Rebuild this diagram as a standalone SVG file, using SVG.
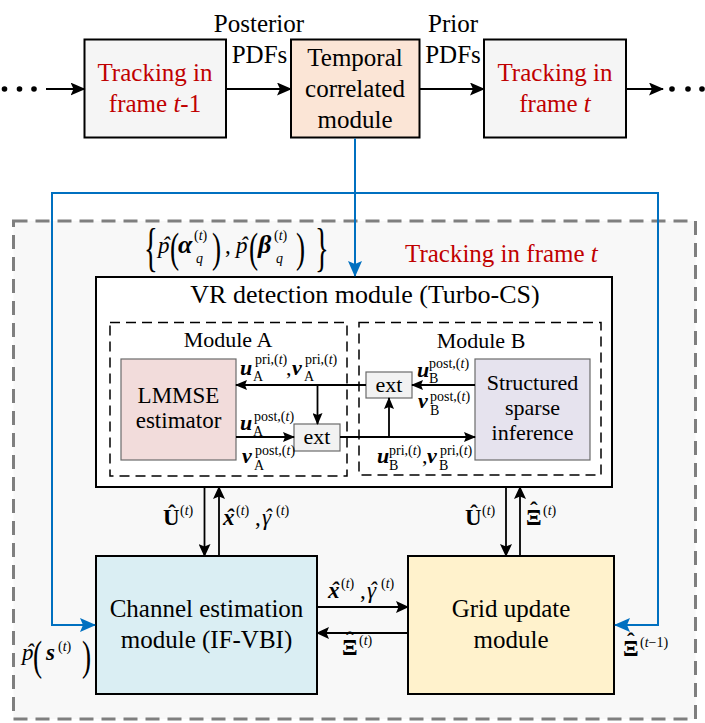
<svg xmlns="http://www.w3.org/2000/svg" width="705" height="723" viewBox="0 0 705 723" font-family="'Liberation Serif', 'DejaVu Serif', serif">
<style>
text{font-family:'Liberation Serif','DejaVu Serif',serif;fill:#000}
.f25{font-size:25px}
.f26{font-size:26px}
.f22{font-size:22px}
.f23{font-size:23px}
.sm{font-size:14px}
.bi{font-weight:bold;font-style:italic}
.b{font-weight:bold}
.i{font-style:italic}
.red{fill:#C00000}
.mid{text-anchor:middle}
.ln{stroke:#000;stroke-width:1.8;fill:none}
.bl{stroke:#0070C0;stroke-width:2;fill:none}
.box{stroke:#000;stroke-width:2}
.ibox{stroke:#6b6b6b;stroke-width:1.2}
.dash{fill:none;stroke:#000;stroke-width:1.5;stroke-dasharray:10 6}
</style>
<defs>
<marker id="ah" markerUnits="userSpaceOnUse" markerWidth="15" markerHeight="13" refX="14" refY="6.5" orient="auto"><path d="M0,0 L15,6.5 L0,13 L3,6.5 z" fill="#000"/></marker>
<marker id="am" markerUnits="userSpaceOnUse" markerWidth="13" markerHeight="12" refX="12" refY="6" orient="auto"><path d="M0,0 L13,6 L0,12 L2.5,6 z" fill="#000"/></marker>
<marker id="as" markerUnits="userSpaceOnUse" markerWidth="12" markerHeight="10" refX="11" refY="5" orient="auto"><path d="M0,0 L12,5 L0,10 L2,5 z" fill="#000"/></marker>
<marker id="ab" markerUnits="userSpaceOnUse" markerWidth="16" markerHeight="14" refX="15" refY="7" orient="auto"><path d="M0,0 L16,7 L0,14 L3,7 z" fill="#0070C0"/></marker>
</defs>

<g id="frame-t">
<rect x="13.5" y="221" width="682" height="498" fill="#F8F8F8" stroke="#7F7F7F" stroke-width="3" stroke-dasharray="14 8"/>
<text class="f25 red" x="405" y="262">Tracking in frame <tspan class="i">t</tspan></text>
</g>

<g id="dots-left"><circle cx="4.5" cy="89" r="2.8"/><circle cx="19.5" cy="89" r="2.8"/><circle cx="34" cy="89" r="2.8"/></g>
<g id="dots-right"><circle cx="672" cy="89" r="2.8"/><circle cx="688" cy="89" r="2.8"/><circle cx="702" cy="89" r="2.8"/></g>

<g id="track-prev">
<rect class="box" x="84.5" y="39.5" width="141.5" height="98" fill="#F5F5F5"/>
<text class="f25 red mid" x="155" y="81">Tracking in</text>
<text class="f25 red mid" x="155" y="112">frame <tspan class="i">t</tspan>-1</text>
</g>
<g id="temporal">
<rect class="box" x="291" y="39.5" width="128.5" height="98" fill="#FBE5D6"/>
<text class="f25 mid" x="355" y="66">Temporal</text>
<text class="f25 mid" x="355" y="97">correlated</text>
<text class="f25 mid" x="355" y="128">module</text>
</g>
<g id="track-cur">
<rect class="box" x="484" y="39.5" width="142" height="98" fill="#F5F5F5"/>
<text class="f25 red mid" x="555" y="81">Tracking in</text>
<text class="f25 red mid" x="555" y="112">frame <tspan class="i">t</tspan></text>
</g>

<g id="vr">
<rect class="box" x="96" y="277" width="516" height="210" fill="#FFFFFF"/>
<text class="f26 mid" x="365" y="303">VR detection module (Turbo-CS)</text>
</g>
<g id="module-a">
<rect class="dash" x="110" y="322.5" width="237" height="153.5"/>
<text class="f22 mid" x="228" y="347">Module A</text>
</g>
<g id="module-b">
<rect class="dash" x="359" y="322.5" width="242" height="152.5"/>
<text class="f22 mid" x="481" y="348">Module B</text>
</g>
<g id="lmmse">
<rect class="ibox" x="121" y="359" width="115" height="101" fill="#F2DCDB"/>
<text class="f23 mid" x="178.5" y="403">LMMSE</text>
<text class="f23 mid" x="178.5" y="428">estimator</text>
</g>
<g id="ssi">
<rect class="ibox" x="475" y="359" width="115" height="101" fill="#E6E3EE"/>
<text class="f22 mid" x="532.5" y="390">Structured</text>
<text class="f22 mid" x="532.5" y="415">sparse</text>
<text class="f22 mid" x="532.5" y="440">inference</text>
</g>
<g id="ext-a">
<rect class="ibox" x="294" y="424" width="46" height="27" fill="#F2F2F2"/>
<text class="f22 mid" x="317" y="444">ext</text>
</g>
<g id="ext-b">
<rect class="ibox" x="366" y="372" width="46" height="26" fill="#F2F2F2"/>
<text class="f22 mid" x="389" y="392">ext</text>
</g>

<g id="channel">
<rect class="box" x="96" y="556" width="221" height="138" fill="#DAEEF3"/>
<text class="f25 mid" x="206.5" y="617">Channel estimation</text>
<text class="f25 mid" x="206.5" y="648">module (IF-VBI)</text>
</g>
<g id="grid">
<rect class="box" x="408" y="556" width="206" height="138" fill="#FFF2CC"/>
<text class="f25 mid" x="511" y="617">Grid update</text>
<text class="f25 mid" x="511" y="648">module</text>
</g>

<g id="connectors">
<line class="ln" x1="46" y1="89" x2="84.5" y2="89" marker-end="url(#ah)"/>
<line class="ln" x1="226" y1="89" x2="291" y2="89" marker-end="url(#ah)"/>
<line class="ln" x1="419.5" y1="89" x2="484" y2="89" marker-end="url(#ah)"/>
<line class="ln" x1="626" y1="89" x2="663" y2="89" marker-end="url(#ah)"/>

<line class="bl" x1="355" y1="138.5" x2="355" y2="276" marker-end="url(#ab)"/>
<path class="bl" d="M355,193 H52 V625 H95" marker-end="url(#ab)"/>
<path class="bl" d="M355,193 H658 V625 H615" marker-end="url(#ab)"/>

<line class="ln" x1="366" y1="385" x2="236" y2="385" marker-end="url(#as)"/>
<line class="ln" x1="317.5" y1="385" x2="317.5" y2="424" marker-end="url(#as)"/>
<line class="ln" x1="236" y1="437" x2="294" y2="437" marker-end="url(#as)"/>
<line class="ln" x1="340" y1="437" x2="475" y2="437" marker-end="url(#as)"/>
<line class="ln" x1="389" y1="437" x2="389" y2="398" marker-end="url(#as)"/>
<line class="ln" x1="475" y1="385" x2="412" y2="385" marker-end="url(#as)"/>

<line class="ln" x1="204.5" y1="487" x2="204.5" y2="556" marker-end="url(#am)"/>
<line class="ln" x1="219" y1="556" x2="219" y2="487" marker-end="url(#am)"/>
<line class="ln" x1="506" y1="487" x2="506" y2="556" marker-end="url(#am)"/>
<line class="ln" x1="520" y1="556" x2="520" y2="487" marker-end="url(#am)"/>
<line class="ln" x1="317" y1="607" x2="408" y2="607" marker-end="url(#am)"/>
<line class="ln" x1="408" y1="633" x2="317" y2="633" marker-end="url(#am)"/>
</g>

<g id="labels">
<text class="f25 mid" x="259" y="32">Posterior</text>
<text class="f25 mid" x="259.5" y="63">PDFs</text>
<text class="f25 mid" x="453" y="32">Prior</text>
<text class="f25 mid" x="453" y="63">PDFs</text>

<!-- prior formula -->
<text transform="translate(144,265) scale(0.55,1)" font-size="52">{</text>
<text class="f23 i" x="158 162" y="253 253">pˆ</text>
<text transform="translate(170,262) scale(0.65,1)" font-size="42">(</text>
<text><tspan class="bi" font-size="26" x="178" y="253">α</tspan><tspan class="sm" x="194" y="240">(<tspan class="i">t</tspan>)</tspan><tspan class="sm i" x="196" y="263">q</tspan></text>
<text transform="translate(212,262) scale(0.65,1)" font-size="42">)</text>
<text class="f23" x="225" y="253">,</text>
<text class="f23 i" x="236 240" y="253 253">pˆ</text>
<text transform="translate(249,262) scale(0.65,1)" font-size="42">(</text>
<text><tspan class="bi" font-size="26" x="258" y="253">β</tspan><tspan class="sm" x="274" y="240">(<tspan class="i">t</tspan>)</tspan><tspan class="sm i" x="276" y="263">q</tspan></text>
<text transform="translate(296,262) scale(0.65,1)" font-size="42">)</text>
<text transform="translate(315,265) scale(0.55,1)" font-size="52">}</text>

<!-- module A labels -->
<text><tspan class="bi f22" x="240" y="375">u</tspan><tspan class="sm" x="253" y="381">A</tspan><tspan class="sm" x="255" y="364">pri,(<tspan class="i">t</tspan>)</tspan></text>
<text class="f22" x="286" y="375">,</text>
<text><tspan class="bi f22" x="292" y="375">v</tspan><tspan class="sm" x="304" y="381">A</tspan><tspan class="sm" x="305" y="364">pri,(<tspan class="i">t</tspan>)</tspan></text>
<text><tspan class="bi f22" x="240" y="430">u</tspan><tspan class="sm" x="253" y="436">A</tspan><tspan class="sm" x="254" y="421">post,(<tspan class="i">t</tspan>)</tspan></text>
<text><tspan class="bi f22" x="242" y="463">v</tspan><tspan class="sm" x="254" y="470">A</tspan><tspan class="sm" x="255" y="455">post,(<tspan class="i">t</tspan>)</tspan></text>

<!-- module B labels -->
<text><tspan class="bi f22" x="417" y="377">u</tspan><tspan class="sm" x="429" y="383">B</tspan><tspan class="sm" x="429" y="368">post,(<tspan class="i">t</tspan>)</tspan></text>
<text><tspan class="bi f22" x="418" y="408">v</tspan><tspan class="sm" x="430" y="415">B</tspan><tspan class="sm" x="430" y="401">post,(<tspan class="i">t</tspan>)</tspan></text>
<text><tspan class="bi f22" x="377" y="463">u</tspan><tspan class="sm" x="389" y="470">B</tspan><tspan class="sm" x="389" y="455">pri,(<tspan class="i">t</tspan>)</tspan></text>
<text class="f22" x="422" y="463">,</text>
<text><tspan class="bi f22" x="427" y="463">v</tspan><tspan class="sm" x="439" y="470">B</tspan><tspan class="sm" x="440" y="455">pri,(<tspan class="i">t</tspan>)</tspan></text>

<!-- VR / channel / grid labels -->
<text><tspan class="b f23" x="163" y="525">Û</tspan><tspan class="sm" x="180" y="515">(<tspan class="i">t</tspan>)</tspan></text>
<text><tspan class="bi f23" x="223 226" y="525 525">xˆ</tspan><tspan class="sm" x="236" y="515">(<tspan class="i">t</tspan>)</tspan></text>
<text class="f23" x="255" y="525">,</text>
<text><tspan class="i f23" x="262 264" y="525 525">γˆ</tspan><tspan class="sm" x="276" y="515">(<tspan class="i">t</tspan>)</tspan></text>

<text><tspan class="b f23" x="465" y="525">Û</tspan><tspan class="sm" x="482" y="515">(<tspan class="i">t</tspan>)</tspan></text>
<text><tspan class="b f23" x="526 530" y="525 518">Ξˆ</tspan><tspan class="sm" x="543" y="515">(<tspan class="i">t</tspan>)</tspan></text>

<text><tspan class="bi f23" x="328 331" y="598 598">xˆ</tspan><tspan class="sm" x="341" y="588">(<tspan class="i">t</tspan>)</tspan></text>
<text class="f23" x="360" y="598">,</text>
<text><tspan class="i f23" x="367 369" y="598 598">γˆ</tspan><tspan class="sm" x="381" y="588">(<tspan class="i">t</tspan>)</tspan></text>

<text><tspan class="b f23" x="342 346" y="655 648">Ξˆ</tspan><tspan class="sm" x="359" y="645">(<tspan class="i">t</tspan>)</tspan></text>

<text><tspan class="b f23" x="623 627" y="656 649">Ξˆ</tspan><tspan class="sm" x="640" y="647">(<tspan class="i">t</tspan>−1)</tspan></text>

<!-- p(s) -->
<text class="f23 i" x="22 26" y="660 660">pˆ</text>
<text transform="translate(33,670) scale(0.65,1)" font-size="42">(</text>
<text><tspan class="bi f23" x="46" y="660">s</tspan><tspan class="sm" x="58" y="651">(<tspan class="i">t</tspan>)</tspan></text>
<text transform="translate(82,670) scale(0.65,1)" font-size="42">)</text>
</g>
</svg>
